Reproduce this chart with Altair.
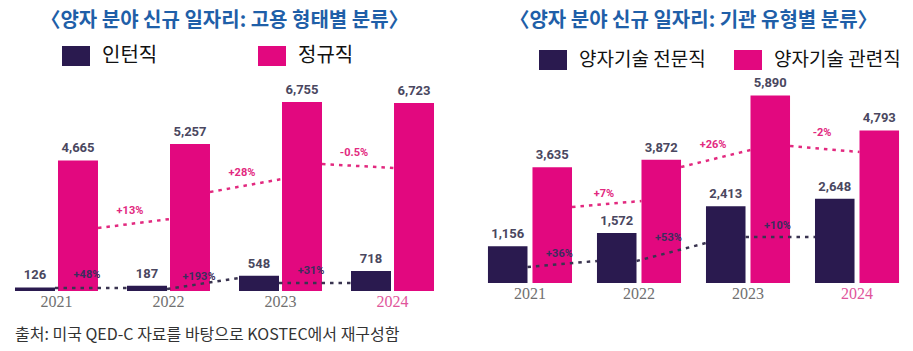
import altair as alt
import pandas as pd

# ---------------- data ----------------
years = ["2021", "2022", "2023", "2024"]

left_title = "〈양자 분야 신규 일자리: 고용 형태별 분류〉"
left_series = ["인턴직", "정규직"]
left_dark_values = [126, 187, 548, 718]
left_pink_values = [4665, 5257, 6755, 6723]
left_dark_growth = ["+48%", "+193%", "+31%"]
left_pink_growth = ["+13%", "+28%", "-0.5%"]
# dotted trend segments (value units)
left_dark_trend_start = [107, 71, 286]
left_dark_trend_end = [107, 465, 286]
left_pink_trend_start = [2252, 3538, 4539]
left_pink_trend_end = [2573, 4003, 4396]
left_dark_label_y = [572, 500, 715]
left_pink_label_y = [2860, 4217, 4932]

right_title = "〈양자 분야 신규 일자리: 기관 유형별 분류〉"
right_series = ["양자기술 전문직", "양자기술 관련직"]
right_dark_values = [1156, 1572, 2413, 2648]
right_pink_values = [3635, 3872, 5890, 4793]
right_dark_growth = ["+36%", "+53%", "+10%"]
right_pink_growth = ["+7%", "+26%", "-2%"]
right_dark_trend_start = [503, 691, 1445]
right_dark_trend_end = [691, 1256, 1445]
right_pink_trend_start = [2387, 3643, 4303]
right_pink_trend_end = [2575, 4177, 4114]
right_dark_label_y = [911, 1413, 1790]
right_pink_label_y = [2795, 4334, 4711]

footnote = "출처: 미국 QED-C 자료를 바탕으로 KOSTEC에서 재구성함"

# ---------------- style ----------------
DARK = "#2a1a4f"
PINK = "#e2087f"
PINK_TXT = "#e2297f"
DARK_TXT = "#3b2d5c"
VAL_TXT = "#4a4760"
TITLE_BLUE = "#1f5fa8"
KFONT = "Noto Sans CJK KR"
RECT = "M-1.4,-1L1.4,-1L1.4,1L-1.4,1Z"


def panel(title, series, dark_vals, pink_vals, dark_g, pink_g,
          dts, dte, pts, pte, dly, ply,
          width, height, ymax, pad_in, pad_out, off_pad,
          dark_edge, pink_edge, legend_x, legend_y, col_pad, legend_fs):
    bars = pd.DataFrame({
        "year": years * 2,
        "series": [series[0]] * 4 + [series[1]] * 4,
        "value": dark_vals + pink_vals,
    })
    bars["label"] = bars["value"].map(lambda v: f"{v:,}")
    dark_tr = pd.DataFrame({"from": years[:-1], "to": years[1:],
                            "y1": dts, "y2": dte, "ly": dly, "txt": dark_g})
    pink_tr = pd.DataFrame({"from": years[:-1], "to": years[1:],
                            "y1": pts, "y2": pte, "ly": ply, "txt": pink_g})

    xscale = alt.Scale(domain=years, paddingInner=pad_in, paddingOuter=pad_out)
    yscale = alt.Scale(domain=[0, ymax], nice=False, zero=True)
    xaxis = alt.Axis(
        title=None, domain=False, ticks=False, grid=False, labelAngle=0,
        labelFont="Liberation Serif", labelFontSize=16, labelPadding=2,
        labelColor={"condition": {"test": "datum.value == '2024'", "value": "#e0559b"},
                    "value": "#707070"},
    )

    bar_layer = alt.Chart(bars).mark_bar().encode(
        x=alt.X("year:N", scale=xscale, axis=xaxis),
        xOffset=alt.XOffset("series:N", sort=series,
                            scale=alt.Scale(domain=series, paddingInner=off_pad, paddingOuter=0)),
        y=alt.Y("value:Q", scale=yscale, axis=None),
        color=alt.Color("series:N", sort=series,
                        scale=alt.Scale(domain=series, range=[DARK, PINK]),
                        legend=alt.Legend(
                            orient="none", legendX=legend_x, legendY=legend_y,
                            direction="horizontal", title=None,
                            symbolType=RECT, symbolSize=400, symbolStrokeWidth=0,
                            symbolOpacity=1,
                            labelFont=KFONT, labelFontSize=legend_fs, labelColor="#111111",
                            labelOffset=16, columnPadding=col_pad, padding=0,
                        )),
    )

    val_layer = alt.Chart(bars).mark_text(
        font="Roboto", fontWeight="bold", fontSize=13, color=VAL_TXT,
        baseline="bottom", dy=-5,
    ).encode(
        x=alt.X("year:N"),
        xOffset=alt.XOffset("series:N", sort=series),
        y=alt.Y("value:Q"),
        text="label:N",
    )

    def trend(df, color, x_bp, x2_bp):
        return alt.Chart(df).mark_rule(
            color=color, strokeWidth=2.5, strokeDash=[3.5, 5],
        ).encode(
            x=alt.X("from:N", bandPosition=x_bp),
            x2=alt.X2("to", bandPosition=x2_bp),
            y=alt.Y("y1:Q"),
            y2="y2:Q",
        )

    def tlabel(df, color, x_bp):
        return alt.Chart(df).mark_text(
            font="Roboto", fontWeight="bold", fontSize=11, color=color,
            align="center", baseline="middle", dx=32,
        ).encode(
            x=alt.X("from:N", bandPosition=x_bp),
            y=alt.Y("ly:Q"),
            text="txt:N",
        )

    layers = alt.layer(
        bar_layer,
        trend(pink_tr, PINK_TXT, 1.0, pink_edge),
        trend(dark_tr, "#3a3450", dark_edge, 0.0),
        val_layer,
        tlabel(pink_tr, PINK_TXT, 1.0),
        tlabel(dark_tr, DARK_TXT, dark_edge),
    ).properties(
        width=width, height=height,
        title=alt.TitleParams(title, font=KFONT, fontSize=20, fontWeight="bold",
                              color=TITLE_BLUE, anchor="middle", offset=10),
    )
    return layers


left = panel(left_title, left_series, left_dark_values, left_pink_values,
             left_dark_growth, left_pink_growth,
             left_dark_trend_start, left_dark_trend_end,
             left_pink_trend_start, left_pink_trend_end,
             left_dark_label_y, left_pink_label_y,
             width=429, height=250, ymax=8935, pad_in=0.259, pad_out=0.0446, off_pad=0.07,
             dark_edge=0.482, pink_edge=0.518, legend_x=56, legend_y=5, col_pad=100,
             legend_fs=20)

right = panel(right_title, right_series, right_dark_values, right_pink_values,
              right_dark_growth, right_pink_growth,
              right_dark_trend_start, right_dark_trend_end,
              right_pink_trend_start, right_pink_trend_end,
              right_dark_label_y, right_pink_label_y,
              width=427, height=242, ymax=7600, pad_in=0.229, pad_out=0.073, off_pad=0.112,
              dark_edge=0.47, pink_edge=0.53, legend_x=63, legend_y=9, col_pad=28,
              legend_fs=19)

chart = alt.hconcat(left, right, spacing=41).resolve_scale(
    color="independent", x="independent", y="independent", xOffset="independent"
).resolve_legend(color="independent").properties(
    padding={"left": 10, "top": 11, "right": 0, "bottom": 4},
    title=alt.TitleParams(footnote, orient="bottom", anchor="start", font=KFONT,
                          fontSize=16, fontWeight="normal", color="#333333", offset=18, dx=5),
).configure_view(stroke=None)

chart.save("out.html", embed_options={"renderer": "svg", "actions": False})
